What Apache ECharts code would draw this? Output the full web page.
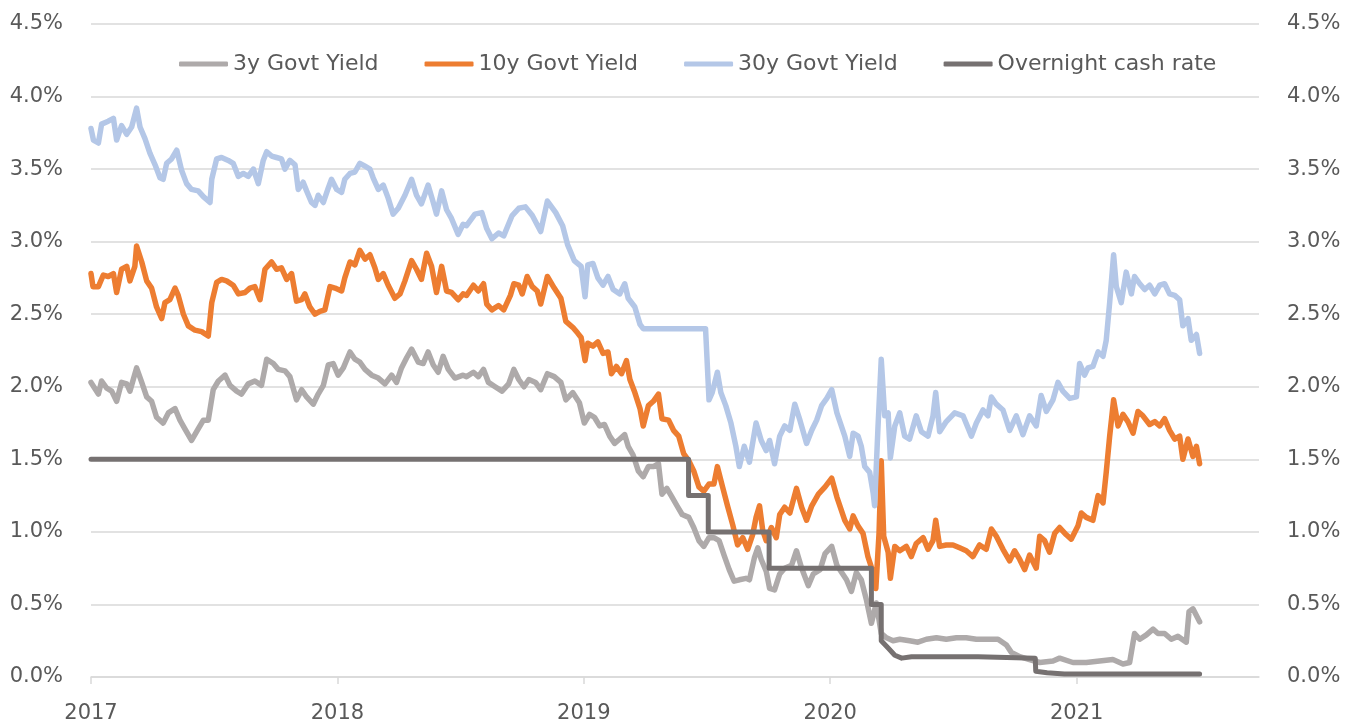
<!DOCTYPE html>
<html>
<head>
<meta charset="utf-8">
<script src="https://cdn.jsdelivr.net/npm/echarts@6/dist/echarts.min.js"></script>
<style>
  html, body { margin: 0; padding: 0; background: #fff; }
  #chart { width: 1352px; height: 724px; }
</style>
</head>
<body>
<div id="chart"></div>
<script>
// x values are decimal years (2017.5 = mid 2017), y values in %
const names = ['3y Govt Yield', '10y Govt Yield', '30y Govt Yield', 'Overnight cash rate'];
const colors = ['#AEAAAA', '#ED7D31', '#B4C7E7', '#767171'];
const yTicks = [0, 4.5, 0.5]; // min, max, step
const xRange = [2017, 2021.74];

const y3 = [
  [2017.000, 2.03], [2017.030, 1.95], [2017.043, 2.04], [2017.064, 1.99], [2017.084, 1.97], [2017.104, 1.90],
  [2017.124, 2.03], [2017.145, 2.02], [2017.158, 1.97], [2017.185, 2.13], [2017.206, 2.03], [2017.226, 1.93],
  [2017.246, 1.90], [2017.266, 1.79], [2017.293, 1.75], [2017.314, 1.82], [2017.341, 1.85], [2017.361, 1.77],
  [2017.381, 1.71], [2017.408, 1.63], [2017.435, 1.71], [2017.456, 1.77], [2017.476, 1.77], [2017.496, 1.98],
  [2017.517, 2.04], [2017.544, 2.08], [2017.564, 2.01], [2017.591, 1.97], [2017.611, 1.95], [2017.638, 2.02],
  [2017.665, 2.04], [2017.692, 2.01], [2017.713, 2.19], [2017.740, 2.16], [2017.760, 2.12], [2017.787, 2.11],
  [2017.807, 2.07], [2017.834, 1.91], [2017.855, 1.98], [2017.875, 1.93], [2017.902, 1.88], [2017.922, 1.95],
  [2017.943, 2.01], [2017.963, 2.15], [2017.983, 2.16], [2018.003, 2.08], [2018.024, 2.13], [2018.051, 2.24],
  [2018.071, 2.19], [2018.091, 2.17], [2018.112, 2.12], [2018.139, 2.08], [2018.166, 2.06], [2018.193, 2.02],
  [2018.220, 2.08], [2018.240, 2.03], [2018.260, 2.13], [2018.281, 2.20], [2018.301, 2.26], [2018.328, 2.17],
  [2018.348, 2.16], [2018.368, 2.24], [2018.389, 2.15], [2018.409, 2.10], [2018.429, 2.21], [2018.450, 2.12],
  [2018.477, 2.06], [2018.510, 2.08], [2018.524, 2.07], [2018.552, 2.10], [2018.572, 2.07], [2018.593, 2.12],
  [2018.613, 2.03], [2018.640, 2.00], [2018.668, 1.97], [2018.695, 2.02], [2018.716, 2.12], [2018.736, 2.05],
  [2018.757, 2.00], [2018.777, 2.05], [2018.804, 2.03], [2018.825, 1.98], [2018.852, 2.09], [2018.880, 2.07],
  [2018.907, 2.03], [2018.927, 1.91], [2018.955, 1.96], [2018.982, 1.89], [2019.002, 1.75], [2019.023, 1.81],
  [2019.043, 1.79], [2019.064, 1.73], [2019.084, 1.74], [2019.105, 1.66], [2019.125, 1.61], [2019.146, 1.64],
  [2019.166, 1.67], [2019.180, 1.59], [2019.200, 1.53], [2019.221, 1.42], [2019.241, 1.38], [2019.262, 1.45],
  [2019.282, 1.45], [2019.303, 1.47], [2019.317, 1.26], [2019.337, 1.30], [2019.358, 1.24], [2019.378, 1.18],
  [2019.399, 1.12], [2019.426, 1.10], [2019.446, 1.03], [2019.467, 0.94], [2019.487, 0.90], [2019.508, 0.96],
  [2019.528, 0.96], [2019.549, 0.94], [2019.569, 0.84], [2019.590, 0.74], [2019.610, 0.66], [2019.631, 0.67],
  [2019.658, 0.68], [2019.672, 0.67], [2019.692, 0.82], [2019.706, 0.89], [2019.720, 0.81], [2019.740, 0.73],
  [2019.754, 0.61], [2019.774, 0.60], [2019.795, 0.71], [2019.815, 0.75], [2019.843, 0.77], [2019.863, 0.87],
  [2019.884, 0.75], [2019.911, 0.63], [2019.931, 0.71], [2019.959, 0.74], [2019.979, 0.85], [2020.006, 0.90],
  [2020.027, 0.77], [2020.066, 0.67], [2020.086, 0.59], [2020.106, 0.72], [2020.126, 0.67], [2020.147, 0.53],
  [2020.167, 0.37], [2020.187, 0.51], [2020.207, 0.30], [2020.228, 0.27], [2020.255, 0.25], [2020.282, 0.26],
  [2020.322, 0.25], [2020.356, 0.24], [2020.390, 0.26], [2020.431, 0.27], [2020.471, 0.26], [2020.512, 0.27],
  [2020.552, 0.27], [2020.593, 0.26], [2020.633, 0.26], [2020.681, 0.26], [2020.715, 0.22], [2020.735, 0.17],
  [2020.769, 0.14], [2020.809, 0.12], [2020.850, 0.10], [2020.904, 0.11], [2020.931, 0.13], [2020.985, 0.10],
  [2021.039, 0.10], [2021.093, 0.11], [2021.147, 0.12], [2021.188, 0.09], [2021.215, 0.10], [2021.235, 0.30],
  [2021.256, 0.26], [2021.283, 0.29], [2021.310, 0.33], [2021.330, 0.30], [2021.357, 0.30], [2021.384, 0.26],
  [2021.411, 0.28], [2021.445, 0.24], [2021.456, 0.45], [2021.472, 0.47], [2021.499, 0.38]
];

const y10 = [
  [2017.000, 2.78], [2017.008, 2.69], [2017.030, 2.69], [2017.050, 2.77], [2017.070, 2.76], [2017.091, 2.78],
  [2017.104, 2.65], [2017.124, 2.81], [2017.145, 2.83], [2017.158, 2.73], [2017.178, 2.83], [2017.185, 2.97],
  [2017.206, 2.86], [2017.226, 2.73], [2017.246, 2.68], [2017.266, 2.55], [2017.287, 2.47], [2017.300, 2.58],
  [2017.320, 2.60], [2017.341, 2.68], [2017.354, 2.63], [2017.375, 2.50], [2017.395, 2.42], [2017.422, 2.39],
  [2017.449, 2.38], [2017.476, 2.35], [2017.490, 2.58], [2017.510, 2.72], [2017.530, 2.74], [2017.550, 2.73],
  [2017.577, 2.70], [2017.598, 2.64], [2017.625, 2.65], [2017.645, 2.68], [2017.665, 2.69], [2017.686, 2.60],
  [2017.706, 2.81], [2017.733, 2.86], [2017.753, 2.81], [2017.773, 2.82], [2017.794, 2.74], [2017.814, 2.78],
  [2017.834, 2.59], [2017.855, 2.60], [2017.868, 2.64], [2017.888, 2.55], [2017.909, 2.50], [2017.929, 2.52],
  [2017.949, 2.53], [2017.970, 2.69], [2017.990, 2.68], [2018.017, 2.66], [2018.030, 2.75], [2018.051, 2.86],
  [2018.071, 2.84], [2018.091, 2.94], [2018.112, 2.88], [2018.132, 2.91], [2018.152, 2.82], [2018.166, 2.74],
  [2018.186, 2.78], [2018.206, 2.70], [2018.233, 2.61], [2018.254, 2.64], [2018.274, 2.73], [2018.301, 2.87],
  [2018.321, 2.81], [2018.341, 2.74], [2018.362, 2.92], [2018.382, 2.83], [2018.402, 2.65], [2018.423, 2.83],
  [2018.443, 2.66], [2018.463, 2.65], [2018.490, 2.60], [2018.510, 2.64], [2018.524, 2.63], [2018.552, 2.70],
  [2018.572, 2.66], [2018.593, 2.71], [2018.606, 2.57], [2018.627, 2.53], [2018.654, 2.56], [2018.675, 2.53],
  [2018.702, 2.63], [2018.716, 2.71], [2018.736, 2.70], [2018.750, 2.64], [2018.770, 2.76], [2018.791, 2.69],
  [2018.811, 2.66], [2018.825, 2.57], [2018.852, 2.76], [2018.880, 2.68], [2018.907, 2.61], [2018.927, 2.45],
  [2018.955, 2.41], [2018.975, 2.37], [2018.989, 2.34], [2019.005, 2.18], [2019.016, 2.30], [2019.037, 2.28],
  [2019.057, 2.31], [2019.078, 2.23], [2019.098, 2.24], [2019.112, 2.09], [2019.132, 2.14], [2019.153, 2.09],
  [2019.173, 2.18], [2019.187, 2.05], [2019.207, 1.96], [2019.228, 1.85], [2019.241, 1.73], [2019.262, 1.87],
  [2019.282, 1.90], [2019.303, 1.95], [2019.317, 1.78], [2019.344, 1.77], [2019.364, 1.70], [2019.385, 1.66],
  [2019.405, 1.54], [2019.426, 1.49], [2019.446, 1.42], [2019.467, 1.31], [2019.487, 1.28], [2019.508, 1.33],
  [2019.528, 1.33], [2019.542, 1.45], [2019.563, 1.31], [2019.583, 1.18], [2019.604, 1.05], [2019.624, 0.91],
  [2019.645, 0.96], [2019.665, 0.88], [2019.685, 0.98], [2019.699, 1.10], [2019.713, 1.18], [2019.726, 1.01],
  [2019.740, 0.94], [2019.761, 1.03], [2019.781, 0.96], [2019.795, 1.12], [2019.815, 1.17], [2019.836, 1.13],
  [2019.863, 1.30], [2019.884, 1.17], [2019.904, 1.08], [2019.925, 1.18], [2019.952, 1.26], [2019.979, 1.31],
  [2020.006, 1.37], [2020.027, 1.24], [2020.059, 1.08], [2020.079, 1.02], [2020.093, 1.11], [2020.113, 1.04],
  [2020.133, 0.99], [2020.153, 0.83], [2020.174, 0.72], [2020.185, 0.61], [2020.198, 0.99], [2020.207, 1.49],
  [2020.217, 0.97], [2020.235, 0.86], [2020.244, 0.68], [2020.262, 0.90], [2020.282, 0.87], [2020.309, 0.90],
  [2020.329, 0.83], [2020.349, 0.92], [2020.377, 0.96], [2020.397, 0.88], [2020.417, 0.94], [2020.428, 1.08],
  [2020.444, 0.90], [2020.471, 0.91], [2020.498, 0.91], [2020.525, 0.89], [2020.552, 0.87], [2020.579, 0.83],
  [2020.606, 0.91], [2020.633, 0.88], [2020.654, 1.02], [2020.674, 0.97], [2020.701, 0.88], [2020.728, 0.80],
  [2020.748, 0.87], [2020.769, 0.81], [2020.789, 0.74], [2020.809, 0.84], [2020.836, 0.75], [2020.850, 0.97],
  [2020.870, 0.94], [2020.890, 0.86], [2020.911, 0.99], [2020.931, 1.03], [2020.958, 0.98], [2020.978, 0.95],
  [2021.005, 1.04], [2021.019, 1.13], [2021.039, 1.10], [2021.066, 1.08], [2021.087, 1.25], [2021.107, 1.20],
  [2021.120, 1.41], [2021.134, 1.66], [2021.150, 1.91], [2021.168, 1.73], [2021.188, 1.81], [2021.208, 1.76],
  [2021.229, 1.68], [2021.249, 1.83], [2021.269, 1.80], [2021.296, 1.74], [2021.317, 1.76], [2021.337, 1.73],
  [2021.357, 1.78], [2021.377, 1.70], [2021.398, 1.64], [2021.418, 1.66], [2021.431, 1.50], [2021.452, 1.64],
  [2021.472, 1.52], [2021.486, 1.59], [2021.499, 1.47]
];

const y30 = [
  [2017.000, 3.78], [2017.010, 3.70], [2017.030, 3.68], [2017.043, 3.81], [2017.070, 3.83], [2017.091, 3.85],
  [2017.104, 3.70], [2017.124, 3.80], [2017.145, 3.74], [2017.165, 3.79], [2017.185, 3.92], [2017.199, 3.79],
  [2017.219, 3.71], [2017.239, 3.61], [2017.260, 3.53], [2017.280, 3.44], [2017.293, 3.43], [2017.307, 3.54],
  [2017.327, 3.57], [2017.348, 3.63], [2017.368, 3.49], [2017.388, 3.40], [2017.408, 3.36], [2017.435, 3.35],
  [2017.456, 3.31], [2017.483, 3.27], [2017.490, 3.43], [2017.510, 3.57], [2017.530, 3.58], [2017.557, 3.56],
  [2017.577, 3.54], [2017.598, 3.45], [2017.618, 3.47], [2017.638, 3.45], [2017.659, 3.50], [2017.679, 3.40],
  [2017.699, 3.56], [2017.713, 3.62], [2017.733, 3.59], [2017.753, 3.58], [2017.773, 3.57], [2017.787, 3.50],
  [2017.807, 3.56], [2017.828, 3.53], [2017.841, 3.36], [2017.861, 3.41], [2017.875, 3.35], [2017.895, 3.27],
  [2017.909, 3.25], [2017.922, 3.32], [2017.943, 3.27], [2017.963, 3.37], [2017.976, 3.43], [2017.997, 3.36],
  [2018.017, 3.34], [2018.030, 3.43], [2018.051, 3.47], [2018.071, 3.48], [2018.091, 3.54], [2018.112, 3.52],
  [2018.132, 3.50], [2018.145, 3.44], [2018.166, 3.36], [2018.186, 3.39], [2018.206, 3.30], [2018.226, 3.19],
  [2018.247, 3.23], [2018.274, 3.32], [2018.301, 3.43], [2018.321, 3.32], [2018.341, 3.26], [2018.368, 3.39],
  [2018.389, 3.27], [2018.402, 3.19], [2018.423, 3.35], [2018.443, 3.22], [2018.463, 3.16], [2018.490, 3.05],
  [2018.510, 3.12], [2018.524, 3.11], [2018.558, 3.19], [2018.586, 3.20], [2018.606, 3.09], [2018.627, 3.02],
  [2018.654, 3.06], [2018.675, 3.04], [2018.709, 3.18], [2018.736, 3.23], [2018.763, 3.24], [2018.791, 3.18],
  [2018.825, 3.07], [2018.852, 3.28], [2018.886, 3.20], [2018.914, 3.11], [2018.934, 2.98], [2018.961, 2.87],
  [2018.989, 2.83], [2019.005, 2.62], [2019.016, 2.84], [2019.037, 2.85], [2019.057, 2.75], [2019.078, 2.70],
  [2019.098, 2.76], [2019.119, 2.67], [2019.146, 2.64], [2019.166, 2.71], [2019.180, 2.61], [2019.207, 2.55],
  [2019.228, 2.43], [2019.241, 2.40], [2019.494, 2.40], [2019.508, 1.91], [2019.521, 1.96], [2019.542, 2.10],
  [2019.556, 1.96], [2019.576, 1.87], [2019.597, 1.75], [2019.617, 1.59], [2019.631, 1.45], [2019.651, 1.59],
  [2019.672, 1.48], [2019.699, 1.75], [2019.720, 1.63], [2019.740, 1.56], [2019.754, 1.63], [2019.774, 1.47],
  [2019.795, 1.66], [2019.815, 1.73], [2019.836, 1.70], [2019.856, 1.88], [2019.877, 1.77], [2019.904, 1.61],
  [2019.925, 1.70], [2019.945, 1.77], [2019.965, 1.87], [2019.986, 1.92], [2020.006, 1.98], [2020.027, 1.82],
  [2020.059, 1.66], [2020.079, 1.52], [2020.093, 1.68], [2020.113, 1.66], [2020.126, 1.59], [2020.140, 1.45],
  [2020.160, 1.41], [2020.174, 1.27], [2020.180, 1.18], [2020.194, 1.73], [2020.207, 2.19], [2020.221, 1.80],
  [2020.235, 1.82], [2020.244, 1.51], [2020.262, 1.73], [2020.282, 1.82], [2020.302, 1.66], [2020.322, 1.64],
  [2020.349, 1.80], [2020.370, 1.69], [2020.397, 1.66], [2020.417, 1.80], [2020.428, 1.96], [2020.444, 1.69],
  [2020.471, 1.76], [2020.505, 1.82], [2020.539, 1.80], [2020.573, 1.66], [2020.593, 1.75], [2020.620, 1.84],
  [2020.640, 1.80], [2020.654, 1.93], [2020.674, 1.88], [2020.701, 1.84], [2020.728, 1.70], [2020.755, 1.80],
  [2020.782, 1.67], [2020.809, 1.80], [2020.836, 1.73], [2020.856, 1.94], [2020.877, 1.83], [2020.904, 1.91],
  [2020.924, 2.03], [2020.944, 1.97], [2020.972, 1.92], [2020.999, 1.93], [2021.012, 2.16], [2021.032, 2.08],
  [2021.046, 2.13], [2021.066, 2.14], [2021.087, 2.24], [2021.107, 2.21], [2021.120, 2.32], [2021.134, 2.58],
  [2021.150, 2.91], [2021.161, 2.69], [2021.181, 2.58], [2021.201, 2.79], [2021.222, 2.64], [2021.235, 2.76],
  [2021.256, 2.71], [2021.276, 2.67], [2021.296, 2.70], [2021.317, 2.64], [2021.337, 2.70], [2021.357, 2.71],
  [2021.377, 2.64], [2021.398, 2.63], [2021.418, 2.60], [2021.431, 2.42], [2021.452, 2.47], [2021.465, 2.32],
  [2021.486, 2.36], [2021.499, 2.23]
];

const cash = [
  [2017.000, 1.50], [2019.425, 1.50], [2019.425, 1.25], [2019.505, 1.25], [2019.505, 1.00], [2019.752, 1.00],
  [2019.752, 0.75], [2020.167, 0.75], [2020.167, 0.50], [2020.207, 0.50], [2020.207, 0.25], [2020.235, 0.20],
  [2020.262, 0.15], [2020.290, 0.13], [2020.330, 0.14], [2020.450, 0.14], [2020.600, 0.14], [2020.832, 0.13],
  [2020.834, 0.04], [2020.880, 0.03], [2020.950, 0.02], [2021.499, 0.02]
];

const chart = echarts.init(document.getElementById('chart'));
const txt = '#595959';
const font = 'DejaVu Sans';
const pct = v => v.toFixed(1) + '%';

const mkY = (pos, grid) => ({
  type: 'value', position: pos,
  min: yTicks[0], max: yTicks[1], interval: yTicks[2],
  axisLine: { show: false }, axisTick: { show: false },
  axisLabel: { color: txt, fontFamily: font, fontSize: 21, margin: 28, formatter: pct },
  splitLine: { show: grid, lineStyle: { color: '#D9D9D9', width: 1.5 } }
});

const seriesData = [y3, y10, y30, cash];

chart.setOption({
  animation: false,
  backgroundColor: '#fff',
  grid: { left: 91, right: 93, top: 24, bottom: 46 },
  legend: {
    left: 174, top: 48,
    icon: 'roundRect', itemWidth: 49, itemHeight: 5, itemGap: 46,
    textStyle: { color: txt, fontFamily: font, fontSize: 22, padding: [0, 0, 0, 0] },
    data: names
  },
  xAxis: {
    type: 'value', min: xRange[0], max: xRange[1], interval: 1,
    axisLine: { lineStyle: { color: '#D9D9D9', width: 1.5 } },
    axisTick: { show: true, length: 7, lineStyle: { color: '#D9D9D9', width: 1.5 } },
    axisLabel: {
      color: txt, fontFamily: font, fontSize: 21, margin: 26,
      verticalAlign: 'top', lineHeight: 21,
      showMaxLabel: false,
      formatter: v => (Math.abs(v - Math.round(v)) < 1e-6 ? String(Math.round(v)) : '')
    },
    splitLine: { show: false }
  },
  yAxis: [mkY('left', true), mkY('right', false)],
  series: names.map((n, i) => ({
    name: n, type: 'line', data: seriesData[i],
    showSymbol: false, symbol: 'none',
    color: colors[i],
    lineStyle: { color: colors[i], width: i === 3 ? 5 : 5.5, cap: 'round', join: 'round' }
  }))
});
</script>
</body>
</html>
